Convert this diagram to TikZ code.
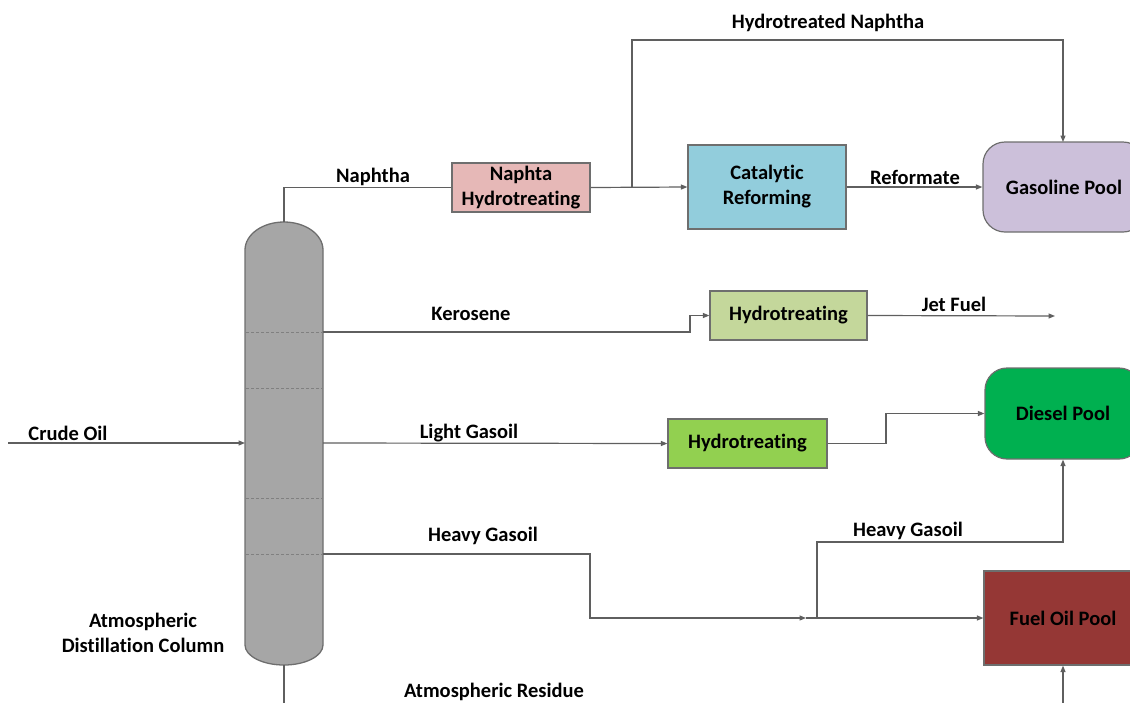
\documentclass[tikz,border=0pt]{standalone}
\usepackage{fontspec}
\setmainfont{Carlito}[Ligatures=NoCommon]
\usetikzlibrary{arrows.meta}
\definecolor{pipe}{HTML}{5F5F5F}
\definecolor{edge}{HTML}{6E6E6E}
\definecolor{colfill}{HTML}{A6A6A6}
\definecolor{nhtfill}{HTML}{E6B8B7}
\definecolor{crfill}{HTML}{92CDDC}
\definecolor{gpfill}{HTML}{CCC0DA}
\definecolor{ht1fill}{HTML}{C4D79B}
\definecolor{ht2fill}{HTML}{92D050}
\definecolor{dpfill}{HTML}{00B050}
\definecolor{fofill}{HTML}{953735}
\begin{document}
\begin{tikzpicture}[x=1pt,y=-1pt,
  font=\fontsize{20.5}{25}\selectfont\bfseries,
  flow/.style={draw=pipe,line width=1.2pt},
  arr/.style={flow,-{Triangle[length=6.5pt,width=5pt]}},
  unit/.style={draw=edge,line width=1.2pt,align=center,inner sep=0pt},
  pool/.style={unit,rounded corners=22pt},
  lbl/.style={inner sep=0pt,align=center}]
\useasboundingbox (0,0) rectangle (1130,702);
\clip (0,0) rectangle (1130,702);

% distillation column
\draw[fill=colfill,draw=edge,line width=1.3pt]
  (245,645) -- (245,250) arc[start angle=180,end angle=360,x radius=39,y radius=28]
  -- (323,645) arc[start angle=0,end angle=180,x radius=39,y radius=20] -- cycle;
\foreach \yy in {332,388,498,554}
  \draw[densely dashed,draw=black!50,line width=0.6pt] (246,\yy) -- (322,\yy);
\coordinate (coltop) at (284,222);
\coordinate (colbot) at (284,665);
\coordinate (colin) at (245,443);
\coordinate (kero) at (323,332);
\coordinate (lgo) at (323,443);
\coordinate (hgo) at (323,554);

% process units and product pools
\node[unit,fill=nhtfill,minimum width=138pt,minimum height=49pt] (nht) at (521,187.5) {Naphta\\Hydrotreating};
\node[unit,fill=crfill,minimum width=158pt,minimum height=84pt] (cr) at (767,187) {Catalytic\\Reforming};
\node[pool,fill=gpfill,minimum width=162pt,minimum height=90pt] (gp) at (1064,187) {Gasoline Pool};
\node[unit,fill=ht1fill,minimum width=157pt,minimum height=49pt] (ht1) at (788.5,315.5) {Hydrotreating};
\node[unit,fill=ht2fill,minimum width=159pt,minimum height=49pt] (ht2) at (747.5,443.5) {Hydrotreating};
\node[pool,fill=dpfill,minimum width=156pt,minimum height=91pt] (dp) at (1063,413.5) {Diesel Pool};
\node[unit,fill=fofill,minimum width=158pt,minimum height=94pt] (fop) at (1063,618) {Fuel Oil Pool};

% free ends and junctions
\coordinate (crude) at (8,443);
\coordinate (split) at (632,187);
\coordinate (jet) at (1055,316);
\coordinate (hgmid) at (806,618);
\coordinate (hgsplit) at (817,618);
\coordinate (resout) at (284,710);
\coordinate (resin) at (1063,710);

% streams
\draw[arr] (crude) -- (colin);
\draw[flow] (coltop) |- (nht.west);
\draw[arr] (nht.east) -- (cr.west);
\draw[arr] (split) -- (632,40) -| (1063,142);
\draw[arr] (cr.east) -- (gp.west);
\draw[arr] (kero) -- (690,332) |- (ht1.west);
\draw[arr] (ht1.east) -- (jet);
\draw[arr] (lgo) -- (ht2.west);
\draw[arr] (ht2.east) -- (886,443.5) |- (dp.west);
\draw[arr] (hgo) -- (590,554) |- (hgmid);
\draw[arr] (hgmid) -- (fop.west);
\draw[arr] (hgsplit) -- (817,542) -| (dp.south);
\draw[flow] (colbot) -- (resout);
\draw[arr] (resin) -- (fop.south);

% stream labels
\node[lbl] (lnaph) at (373,177) {Naphtha};
\node[lbl] (lhn) at (828,23) {Hydrotreated Naphtha};
\node[lbl] (lref) at (915,177) {Reformate};
\node[lbl] (lker) at (471,314) {Kerosene};
\node[lbl] (ljet) at (954,304) {Jet Fuel};
\node[lbl] (llgo) at (469,433) {Light Gasoil};
\node[lbl] (lhgo) at (483,536) {Heavy Gasoil};
\node[lbl] (lhgo2) at (908,531) {Heavy Gasoil};
\node[lbl] (lcrude) at (68,433) {Crude Oil};
\node[lbl] (lres) at (494,692) {Atmospheric Residue};
\node[lbl] (lcol) at (143,633) {Atmospheric\\Distillation Column};
\end{tikzpicture}
\end{document}
